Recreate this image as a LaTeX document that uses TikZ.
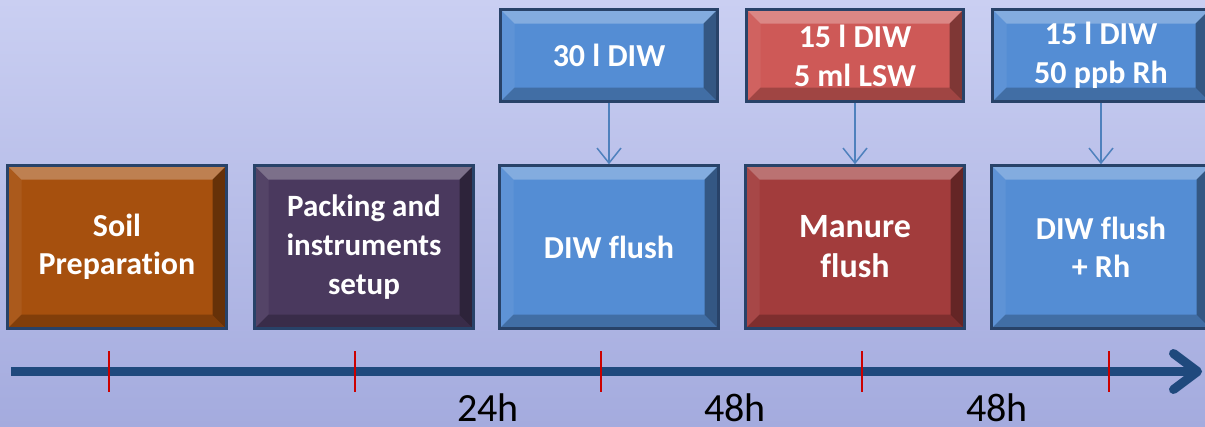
\documentclass[tikz,border=0pt]{standalone}
\usepackage{fontspec}
\setmainfont[RawFeature=-liga]{Carlito}
\usetikzlibrary{arrows.meta}
\definecolor{bgtop}{RGB}{202,207,242}
\definecolor{bgbot}{RGB}{164,171,222}
\definecolor{edge}{RGB}{40,66,104}
\definecolor{soil}{RGB}{166,80,14}
\definecolor{pack}{RGB}{74,57,94}
\definecolor{bluebox}{RGB}{84,141,212}
\definecolor{manure}{RGB}{162,60,60}
\definecolor{salmon}{RGB}{206,89,87}
\definecolor{conn}{RGB}{79,129,189}
\definecolor{tl}{RGB}{31,73,125}
\definecolor{tick}{RGB}{204,0,0}
\tikzset{
  bevel/.style={
    path picture={
      \def\bw{14pt}
      \coordinate (pNW) at (path picture bounding box.north west);
      \coordinate (pNE) at (path picture bounding box.north east);
      \coordinate (pSW) at (path picture bounding box.south west);
      \coordinate (pSE) at (path picture bounding box.south east);
      \fill[white,opacity=0.28] (pNW) -- (pNE) -- ([shift={(-\bw,-\bw)}]pNE) -- ([shift={(\bw,-\bw)}]pNW) -- cycle;
      \fill[white,opacity=0.06] (pNW) -- ([shift={(\bw,-\bw)}]pNW) -- ([shift={(\bw,\bw)}]pSW) -- (pSW) -- cycle;
      \fill[black,opacity=0.38] (pNE) -- (pSE) -- ([shift={(-\bw,\bw)}]pSE) -- ([shift={(-\bw,-\bw)}]pNE) -- cycle;
      \fill[black,opacity=0.22] (pSW) -- (pSE) -- ([shift={(-\bw,\bw)}]pSE) -- ([shift={(\bw,\bw)}]pSW) -- cycle;
    }},
  stagebox/.style={bevel, draw=edge, line width=2.5pt, minimum width=219pt, minimum height=163pt,
    inner sep=0pt, text=white, align=center, font=\bfseries\fontsize{32}{38}\selectfont},
  dosebox/.style={bevel, draw=edge, line width=2.5pt, minimum width=217pt, minimum height=92pt,
    inner sep=0pt, text=white, align=center, font=\bfseries\fontsize{32}{39}\selectfont},
  feed/.style={draw=conn, line width=1.5pt, -{Straight Barb[length=15pt,width=24pt,line width=1.5pt]}},
  hours/.style={anchor=base, font=\fontsize{40}{42}\selectfont, text=black},
  tickmark/.style={draw=tick, line width=2pt}
}
\begin{document}
\begin{tikzpicture}[x=1pt,y=-1pt]
\useasboundingbox (0,0) rectangle (1205,426);
\shade[top color=bgtop, bottom color=bgbot] (0,0) rectangle (1205,426);
% bottom stage boxes
\node[stagebox, fill=soil] (soil) at (117,247) {Soil\\Preparation};
\node[stagebox, fill=pack, font=\bfseries\fontsize{31}{39}\selectfont] (pack) at (364,247) {Packing and\\instruments\\setup};
\node[stagebox, fill=bluebox] (diw) at (609,247) {DIW flush};
\node[stagebox, fill=manure, font=\bfseries\fontsize{34}{40}\selectfont] (man) at (855,247) {Manure\\flush};
\node[stagebox, fill=bluebox] (rh) at (1101,247) {DIW flush\\+ Rh};
% top dose boxes
\node[dosebox, fill=bluebox] (d1) at (609,55.5) {30 l DIW};
\node[dosebox, fill=salmon] (d2) at (855,55.5) {15 l DIW\\5 ml LSW};
\node[dosebox, fill=bluebox] (d3) at (1101,55.5) {15 l DIW\\50 ppb Rh};
% feed arrows
\draw[feed] (d1.south) -- (diw.north);
\draw[feed] (d2.south) -- (man.north);
\draw[feed] (d3.south) -- (rh.north);
% timeline
\coordinate (tlstart) at (11,371.5);
\coordinate (tlend) at (1202,371.5);
\draw[tl, line width=9pt, -{Straight Barb[length=24pt,width=36pt,round,line width=9pt]}] (tlstart) -- (tlend);
\foreach \x in {109,355,601,862,1109} \draw[tickmark] (\x,351) -- (\x,392);
\node[hours] (h1) at (488,421) {24h};
\node[hours] (h2) at (735,421) {48h};
\node[hours] (h3) at (997,421) {48h};
\end{tikzpicture}
\end{document}
